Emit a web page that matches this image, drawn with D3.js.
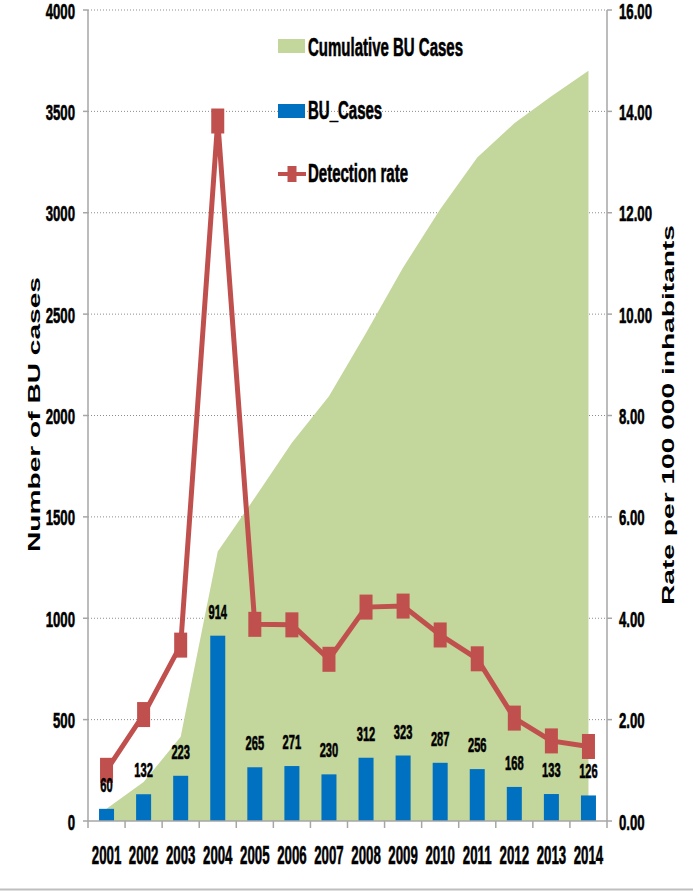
<!DOCTYPE html>
<html>
<head>
<meta charset="utf-8">
<script src="https://cdn.jsdelivr.net/npm/d3@7"></script>
<style>
  html, body { margin: 0; padding: 0; background: #fff; }
  svg { display: block; }
  text { font-family: "Liberation Sans", Arial, sans-serif; font-weight: bold; fill: #000; }
  .heavy { stroke: #000; stroke-width: 0.6px; }
</style>
</head>
<body>
<svg id="chart" width="693" height="891"></svg>
<script>
const years = ["2001","2002","2003","2004","2005","2006","2007","2008","2009","2010","2011","2012","2013","2014"];
const buCases = [60,132,223,914,265,271,230,312,323,287,256,168,133,126];
const cumulativeCases = [60,192,415,1329,1594,1865,2095,2407,2730,3017,3273,3441,3574,3700];
const detectionRate = [1.00,2.10,3.47,13.81,3.88,3.87,3.19,4.22,4.24,3.67,3.20,2.03,1.58,1.47];
const leftTicks = [0,500,1000,1500,2000,2500,3000,3500,4000];
const rightTicks = [0,2,4,6,8,10,12,14,16];

const svg = d3.select("#chart");
const L = 88, R = 607, T = 10, B = 821;

const x = d3.scaleBand().domain(years).range([L, R]).paddingInner(0).paddingOuter(0);
const xc = d => x(d) + x.bandwidth() / 2;
const yL = d3.scaleLinear().domain([0, 4000]).range([B, T]);
const yR = d3.scaleLinear().domain([0, 16]).range([B, T]);

const green = "#c3d69b", blue = "#0070c0", red = "#c0504d", axisGray = "#a6a6a6";

// helper: horizontally condensed text
function sText(parent, tx, ty, str, size, sx, anchor) {
  const g = parent.append("g").attr("transform", `translate(${tx},${ty})`);
  g.append("text").attr("class", "heavy").attr("transform", `scale(${sx},1)`)
    .attr("font-size", size).attr("text-anchor", anchor || "start").text(str);
  return g;
}

// gridlines
svg.append("g").selectAll("line").data(leftTicks.filter(d => d > 0)).join("line")
  .attr("x1", L).attr("x2", R).attr("y1", d => yL(d)).attr("y2", d => yL(d))
  .attr("stroke", "#8c8c8c").attr("stroke-width", 1).attr("stroke-dasharray", "1,2");

// cumulative area
const area = d3.area().x((d, i) => xc(years[i])).y0(yL(0)).y1(d => yL(d));
svg.append("path").datum(cumulativeCases).attr("d", area).attr("fill", green);

// bars
const bw = 15;
svg.append("g").selectAll("rect").data(buCases).join("rect")
  .attr("x", (d, i) => xc(years[i]) - bw / 2).attr("width", bw)
  .attr("y", d => yL(d)).attr("height", d => yL(0) - yL(d)).attr("fill", blue);

// axes lines
svg.append("line").attr("x1", L).attr("x2", L).attr("y1", T).attr("y2", B).attr("stroke", axisGray).attr("stroke-width", 1.5);
svg.append("line").attr("x1", R).attr("x2", R).attr("y1", T).attr("y2", B).attr("stroke", axisGray).attr("stroke-width", 1.5);
svg.append("line").attr("x1", L).attr("x2", R).attr("y1", B).attr("y2", B).attr("stroke", axisGray).attr("stroke-width", 1.5);

// ticks
svg.append("g").selectAll("line").data(leftTicks).join("line")
  .attr("x1", L - 5).attr("x2", L).attr("y1", d => yL(d)).attr("y2", d => yL(d)).attr("stroke", axisGray).attr("stroke-width", 1.5);
svg.append("g").selectAll("line").data(rightTicks).join("line")
  .attr("x1", R).attr("x2", R + 5).attr("y1", d => yR(d)).attr("y2", d => yR(d)).attr("stroke", axisGray).attr("stroke-width", 1.5);
const xBounds = years.map(d => x(d)).concat([R]);
svg.append("g").selectAll("line").data(xBounds).join("line")
  .attr("x1", d => d).attr("x2", d => d).attr("y1", B).attr("y2", B + 7).attr("stroke", axisGray).attr("stroke-width", 1.5);

// tick labels
const tl = svg.append("g");
leftTicks.forEach(v => sText(tl, 75, yL(v) + 8.5, String(v), 22, 0.6, "end"));
rightTicks.forEach(v => sText(tl, 619, yR(v) + 8.5, v.toFixed(2), 22, 0.6, "start"));
years.forEach(yv => sText(tl, xc(yv), 864, yv, 26, 0.51, "middle"));

// detection rate line
const line = d3.line().x((d, i) => xc(years[i])).y(d => yR(d));
svg.append("path").datum(detectionRate).attr("d", line)
  .attr("fill", "none").attr("stroke", red).attr("stroke-width", 5).attr("stroke-linejoin", "miter");
svg.append("g").selectAll("rect").data(detectionRate).join("rect")
  .attr("x", (d, i) => xc(years[i]) - 6.5).attr("width", 13)
  .attr("y", d => yR(d) - 12.5).attr("height", 25).attr("fill", red);

// data labels
const dl = svg.append("g");
buCases.forEach((v, i) => sText(dl, xc(years[i]), yL(v) - 17, String(v), 19.5, 0.57, "middle"));

// axis titles
svg.append("text").attr("transform", "translate(40,414.5) rotate(-90)")
  .attr("text-anchor", "middle").attr("font-size", 16.5)
  .attr("textLength", 275).attr("lengthAdjust", "spacingAndGlyphs")
  .text("Number of BU cases");
svg.append("text").attr("transform", "translate(674,415) rotate(-90)")
  .attr("text-anchor", "middle").attr("font-size", 16.5)
  .attr("textLength", 380).attr("lengthAdjust", "spacingAndGlyphs")
  .text("Rate per 100 000 inhabitants");

// legend
const lg = svg.append("g");
lg.append("rect").attr("x", 278).attr("y", 39).attr("width", 27).attr("height", 14).attr("fill", green);
sText(lg, 308, 56, "Cumulative BU Cases", 25, 0.6, "start");
lg.append("rect").attr("x", 278).attr("y", 104).attr("width", 27).attr("height", 14).attr("fill", blue);
sText(lg, 308, 119, "BU_Cases", 25, 0.6, "start");
lg.append("line").attr("x1", 278).attr("x2", 306).attr("y1", 174).attr("y2", 174).attr("stroke", red).attr("stroke-width", 4);
lg.append("rect").attr("x", 287.5).attr("y", 166).attr("width", 9).attr("height", 16).attr("fill", red);
sText(lg, 308, 182, "Detection rate", 25, 0.6, "start");

// bottom border line
svg.append("line").attr("x1", 0).attr("x2", 693).attr("y1", 889.5).attr("y2", 889.5).attr("stroke", "#bfbfbf").attr("stroke-width", 2);
</script>
</body>
</html>
